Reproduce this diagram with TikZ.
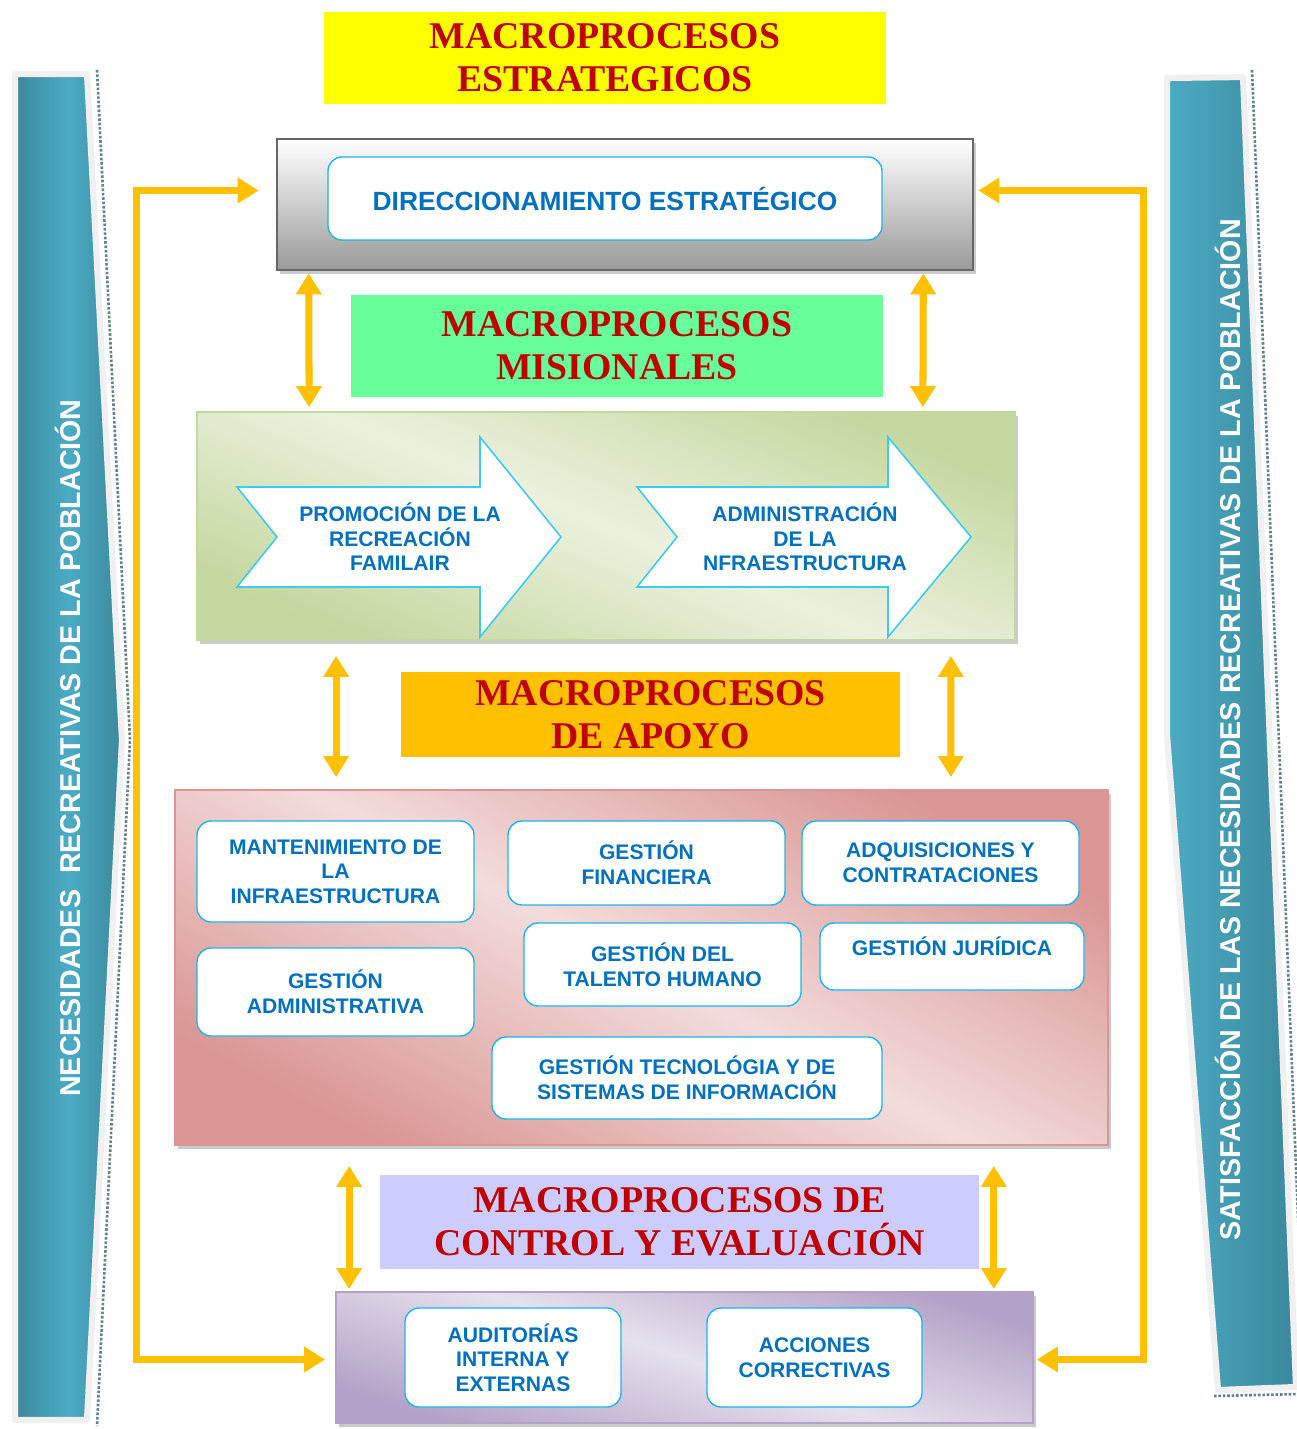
\documentclass[tikz,border=0pt]{standalone}
\usepackage{fontspec}
\setmainfont{Liberation Serif}
\setsansfont{Liberation Sans}
\usetikzlibrary{arrows.meta}
\usetikzlibrary{calc}
\usetikzlibrary{shadows}

\definecolor{naranja}{HTML}{FFC000}
\definecolor{amarillo}{HTML}{FFFF00}
\definecolor{rojo}{HTML}{C00000}
\definecolor{azul}{HTML}{0070C0}
\definecolor{celeste}{HTML}{1EB4EE}
\definecolor{celeste2}{HTML}{3CCBF4}
\definecolor{menta}{HTML}{66FF99}
\definecolor{lila}{HTML}{CCCCFF}
\definecolor{verde1}{HTML}{EBF1DE}
\definecolor{verde2}{HTML}{C4D79E}
\definecolor{rosa1}{HTML}{F2DCDB}
\definecolor{rosa2}{HTML}{D99694}
\definecolor{morado1}{HTML}{E6E0EC}
\definecolor{morado2}{HTML}{B3A2C7}
\definecolor{teal1}{HTML}{3B889C}
\definecolor{teal2}{HTML}{4BABC4}
\definecolor{bordegris}{HTML}{F0F0F0}

\tikzset{
  dim/.style 2 args={minimum width=#1*0.02cm, minimum height=#2*0.02cm},
  titulo/.style={inner sep=0, text=rojo, align=center,
    font=\fontsize{21.5}{24.5}\selectfont\bfseries},
  bloque/.style={inner sep=0, line width=1pt},
  sombra/.style={drop shadow={shadow xshift=1.5pt, shadow yshift=-2pt, fill=black!35, opacity=0.6}},
  caja/.style={draw=celeste, fill=white, rounded corners=8pt, line width=0.8pt,
    inner sep=0, text=azul, align=center,
    font=\fontsize{12}{14}\selectfont\sffamily\bfseries},
  texto/.style={text=azul, align=center, font=\fontsize{12}{14}\selectfont\sffamily\bfseries},
  flecha/.style={draw=celeste2, fill=white, line width=0.9pt},
  doble/.style={draw=naranja, line width=4pt, <->},
  banda/.style={draw=bordegris, line width=3.5pt, line join=round},
  lateral/.style={rotate=90, text=white, font=\fontsize{16.3}{18}\selectfont\sffamily\bfseries},
}

\begin{document}
\begin{tikzpicture}[x=0.02cm, y=-0.02cm, >={Triangle[length=12pt,width=14pt]}]
\useasboundingbox (0,0) rectangle (1296,1429);

% bandas laterales
\draw[gray!60!teal1, densely dotted, line width=1.5pt] (97,70) -- (130,740) -- (97,1426);
\draw[banda, left color=teal1, right color=teal1, middle color=teal2] (15,74) -- (87,74) -- (122,740) -- (87,1420) -- (15,1420) -- cycle;
\node[lateral] (nec) at (68,748) {NECESIDADES \ RECREATIVAS DE LA POBLACIÓN};

\draw[gray!60!teal1, densely dotted, line width=1.5pt] (1252,70) -- (1305,1392);
\draw[gray!60!teal1, densely dotted, line width=1.5pt] (1214,1396) -- (1300,1394);
\draw[banda, left color=teal2, right color=teal1] (1167,78) -- (1243,77) -- (1296,1387) -- (1218,1390) -- (1167,735) -- cycle;
\node[lateral] (sat) at (1228,730) {SATISFACCIÓN DE LAS NECESIDADES RECREATIVAS DE LA POBLACIÓN};

% estrategicos
\node[titulo, fill=amarillo, dim={562}{92}] (test) at (605,58) {MACROPROCESOS\\ESTRATEGICOS};
\node[bloque, draw=black!60, line width=1.5pt, top color=white, bottom color=black!40, dim={696}{131}, sombra] (gris) at (625,204.5) {};
\node[caja, font=\fontsize{15}{17}\selectfont\sffamily\bfseries, dim={554}{83}] (dir) at (605,198.5) {DIRECCIONAMIENTO ESTRATÉGICO};

% misionales
\node[titulo, fill=menta, dim={532}{102}] (tmis) at (617,346) {MACROPROCESOS\\MISIONALES};
\node[bloque, draw=verde2, top color=verde2, bottom color=verde2, middle color=verde1, shading angle=-22, dim={818}{228}, sombra] (verde) at (606,526) {};
\draw[flecha] (237,487) -- (480,487) -- (480,437) -- (561,537) -- (480,637) -- (480,587) -- (237,587) -- (277,537) -- cycle;
\node[texto] (prom) at (400,537) {PROMOCIÓN DE LA\\RECREACIÓN\\FAMILAIR};
\draw[flecha] (637,487) -- (888,487) -- (888,437) -- (971,537) -- (888,637) -- (888,587) -- (637,587) -- (677,537) -- cycle;
\node[texto] (adm) at (805,537) {ADMINISTRACIÓN\\DE LA\\NFRAESTRUCTURA};

% apoyo
\node[titulo, fill=naranja, dim={499}{85}] (tapo) at (650.5,714.5) {MACROPROCESOS\\DE APOYO};
\node[bloque, draw=rosa2, top color=rosa2, bottom color=rosa2, middle color=rosa1, shading angle=-28, dim={933}{355}, sombra] (rosa) at (641.5,967.5) {};
\node[caja, dim={277}{101}] (mant) at (335.5,871.5) {MANTENIMIENTO DE\\LA\\INFRAESTRUCTURA};
\node[caja, dim={277}{84}] (fin) at (646.5,863) {GESTIÓN\\FINANCIERA};
\node[caja, dim={277}{84}] (adq) at (940.5,863) {ADQUISICIONES Y\\CONTRATACIONES};
\node[caja, dim={277}{88}] (gadm) at (335.5,992) {GESTIÓN\\ADMINISTRATIVA};
\node[caja, dim={277}{83}] (tal) at (662.5,964.5) {GESTIÓN DEL\\TALENTO HUMANO};
\node[caja, dim={264}{67}, text depth=12pt] (jur) at (952,956.5) {GESTIÓN JURÍDICA};
\node[caja, dim={390}{82}] (tec) at (687,1078) {GESTIÓN TECNOLÓGIA Y DE\\SISTEMAS DE INFORMACIÓN};

% control
\node[titulo, fill=lila, dim={599}{94}] (tcon) at (679.5,1222) {MACROPROCESOS DE\\CONTROL Y EVALUACIÓN};
\node[bloque, draw=morado2, top color=morado2, bottom color=morado2, middle color=morado1, shading angle=-18, dim={697}{131}, sombra] (morado) at (684.5,1357.5) {};
\node[caja, dim={216}{99}] (aud) at (513,1357.5) {AUDITORÍAS\\INTERNA Y\\EXTERNAS};
\node[caja, dim={215}{99}] (acc) at (814.5,1357.5) {ACCIONES\\CORRECTIVAS};

% flechas
\draw[doble] ($(gris.south west)+(33,2)$) -- ($(verde.north west)+(113,-4)$);
\draw[doble] ($(gris.south east)+(-51,2)$) -- ($(verde.north east)+(-93,-4)$);
\draw[doble] ($(verde.south west)+(140,15)$) -- ($(rosa.north west)+(162,-12)$);
\draw[doble] ($(verde.south east)+(-65,15)$) -- ($(rosa.north east)+(-158,-12)$);
\draw[doble] ($(rosa.south west)+(175,20)$) -- ($(morado.north west)+(14,-2)$);
\draw[doble] ($(rosa.south east)+(-115,20)$) -- ($(morado.north east)+(-40,-2)$);

% lazos
\draw[doble] ($(gris.west)+(-17,-14)$) -- ++(-122,0) |- ($(morado.west)+(-10,2)$);
\draw[doble] ($(gris.east)+(4,-14)$) -- ++(165,0) |- ($(morado.east)+(3,2)$);
\end{tikzpicture}
\end{document}
